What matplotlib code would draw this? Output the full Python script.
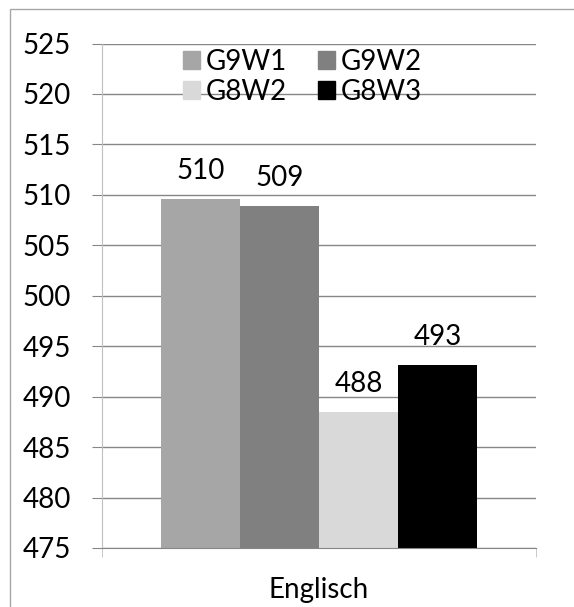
import matplotlib.pyplot as plt
from matplotlib.patches import Rectangle, Patch

plt.rcParams["font.family"] = ["Lato", "DejaVu Sans"]

series = ["G9W1", "G9W2", "G8W2", "G8W3"]
values = [509.55, 508.85, 488.45, 493.1]
value_labels = ["510", "509", "488", "493"]
category = "Englisch"
colors = ["#a6a6a6", "#808080", "#d9d9d9", "#000000"]

fs = 20

fig = plt.figure(figsize=(5.74, 6.07), dpi=100)
ax = fig.add_axes([102 / 574, 1 - 548 / 607, 434 / 574, (548 - 43.5) / 607])

w = 0.182
for i, (name, val, lab, col) in enumerate(zip(series, values, value_labels, colors)):
    x = (i - 1.5) * w
    ax.bar(x, val - 475, width=w, bottom=475, color=col, label=name, zorder=2)
    ax.annotate(lab, (x, val), xytext=(0, 14.4), textcoords="offset points",
                ha="center", va="baseline", fontsize=fs)

ax.set_ylim(475, 525)
ax.set_yticks(range(475, 526, 5))
ax.set_xlim(-0.5, 0.5)
ax.set_xticks([0])
ax.set_xticklabels([category])
ax.set_xticks([-0.5, 0.5], minor=True)

ax.grid(axis="y", color="#868686", linewidth=1, zorder=0)
ax.set_axisbelow(True)
for s in ["top", "right"]:
    ax.spines[s].set_visible(False)
ax.spines["left"].set_color("#bfbfbf")
ax.spines["bottom"].set_color("#868686")
ax.tick_params(axis="y", length=7.2, color="#868686", pad=15, labelsize=fs)
ax.tick_params(axis="x", which="major", length=0, pad=21, labelsize=fs)
ax.tick_params(axis="x", which="minor", length=6.5, color="#bfbfbf")

# legend filled row by row like the original: G9W1 G9W2 / G8W2 G8W3
order = [0, 2, 1, 3]
handles = [Patch(color=colors[k]) for k in order]
labels = [series[k] for k in order]
ax.legend(handles, labels, ncol=2, loc="upper left",
          bbox_to_anchor=(183 / 574, 1 - 49 / 607), bbox_transform=fig.transFigure,
          frameon=False, borderaxespad=0, borderpad=0, fontsize=fs,
          handlelength=0.61, handleheight=0.61, handletextpad=0.22,
          columnspacing=1.1, labelspacing=0.15)

fig.patches.append(Rectangle((10 / 574, -0.1), 1.2, 1 - 9 / 607 + 0.1,
                             transform=fig.transFigure, fill=False,
                             edgecolor="#a6a6a6", linewidth=1))

fig.savefig("out.png", dpi=100)
